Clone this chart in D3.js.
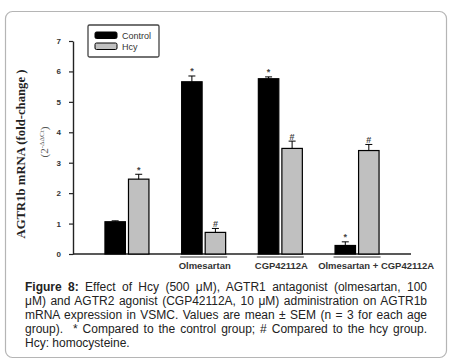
<!DOCTYPE html>
<html>
<head>
<meta charset="utf-8">
<script src="https://cdn.jsdelivr.net/npm/d3@7"></script>
<style>
  body { margin: 0; background: #fff; }
  #wrap { position: relative; width: 452px; height: 364px; }
  svg { position: absolute; left: 0; top: 0; }
  #caption {
    position: absolute; left: 25px; top: 280px; width: 402px;
    font-family: "Liberation Sans", Arial, sans-serif; font-size: 12px;
    line-height: 14px; color: #222;
  }
  #caption div { text-align: justify; text-align-last: justify; white-space: nowrap; }
  #caption div.last { text-align-last: left; }
</style>
</head>
<body>
<div id="wrap">
  <svg id="chart" width="452" height="364"></svg>
  <div id="caption"></div>
</div>
<script>
// datos
const grupos = ["Base", "Olmesartan", "CGP42112A", "Olmesartan + CGP42112A"];
const etiquetasGrupo = ["", "Olmesartan", "CGP42112A", "Olmesartan + CGP42112A"];
const series = ["Control", "Hcy"];
const valoresControl = [1.06, 5.66, 5.76, 0.28];
const valoresHcy = [2.46, 0.71, 3.47, 3.40];
const errorControl = [0.03, 0.19, 0.06, 0.12];
const errorHcy = [0.16, 0.13, 0.24, 0.20];
const marcaControl = ["", "*", "*", "*"];
const marcaHcy = ["*", "#", "#", "#"];
const ticksY = [0, 1, 2, 3, 4, 5, 6, 7];
const lineasTexto = [
  "<b>Figure 8:</b> Effect of Hcy (500 μM), AGTR1 antagonist (olmesartan, 100",
  "μM) and AGTR2 agonist (CGP42112A, 10 μM) administration on AGTR1b",
  "mRNA expression in VSMC. Values are mean ± SEM (n = 3 for each age",
  "group).&nbsp; * Compared to the control group; # Compared to the hcy group.",
  "Hcy: homocysteine."
];

const svg = d3.select("#chart");
const colores = {Control: "#000", Hcy: "#c0c0c0"};
const sans = "Liberation Sans, Arial, sans-serif";

// marco redondeado
svg.append("rect")
  .attr("x", 5.5).attr("y", 11.5).attr("width", 441).attr("height", 346)
  .attr("rx", 7).attr("fill", "none").attr("stroke", "#b5b5b5").attr("stroke-width", 1.2);

const datos = grupos.map((g, i) => ({
  grupo: g,
  etiqueta: etiquetasGrupo[i],
  barras: [
    {serie: "Control", valor: valoresControl[i], err: errorControl[i], marca: marcaControl[i]},
    {serie: "Hcy", valor: valoresHcy[i], err: errorHcy[i], marca: marcaHcy[i]}
  ]
}));

const y = d3.scaleLinear().domain([0, 7]).range([254, 41]);
const x0 = d3.scaleBand().domain(grupos).range([88.6, 395.4]);
const x1 = d3.scaleBand().domain(series).range([-22, 22]).paddingInner(0.13);

// eje Y
const ejeY = svg.append("g")
  .attr("transform", "translate(73,0)")
  .call(d3.axisLeft(y).tickValues(ticksY).tickFormat(d3.format("d"))
    .tickSize(4).tickPadding(8).tickSizeOuter(0));
ejeY.select(".domain").attr("stroke", "#222").attr("stroke-width", 1.4);
ejeY.selectAll(".tick line").attr("stroke", "#222").attr("stroke-width", 1.2);
ejeY.selectAll(".tick text")
  .attr("font-family", sans)
  .attr("font-size", 8).attr("font-weight", "bold").attr("fill", "#333");

// eje X (linea base)
svg.append("line")
  .attr("x1", 73).attr("x2", 411).attr("y1", y(0)).attr("y2", y(0))
  .attr("stroke", "#222").attr("stroke-width", 1.4);

// barras
const g = svg.selectAll(".grupo")
  .data(datos)
  .enter()
  .append("g")
  .attr("transform", d => `translate(${x0(d.grupo) + x0.bandwidth() / 2},0)`);

g.selectAll("rect")
  .data(d => d.barras)
  .enter()
  .append("rect")
  .attr("x", d => x1(d.serie))
  .attr("y", d => y(d.valor))
  .attr("width", x1.bandwidth())
  .attr("height", d => y(0) - y(d.valor))
  .attr("fill", d => colores[d.serie])
  .attr("stroke", "#000").attr("stroke-width", 1.2);

// barras de error
g.selectAll(".err")
  .data(d => d.barras)
  .enter()
  .append("path")
  .attr("d", d => {
    const cx = x1(d.serie) + x1.bandwidth() / 2;
    const yt = y(d.valor + d.err);
    return `M${cx},${y(d.valor)}V${yt}M${cx - 3.5},${yt}H${cx + 3.5}`;
  })
  .attr("stroke", "#000").attr("stroke-width", 1).attr("fill", "none");

// marcas de significancia
g.selectAll(".marca")
  .data(d => d.barras)
  .enter()
  .append("text")
  .attr("x", d => x1(d.serie) + x1.bandwidth() / 2)
  .attr("y", d => y(d.valor + d.err) - 1.5)
  .attr("text-anchor", "middle")
  .attr("font-family", sans)
  .attr("font-size", 9).attr("font-weight", "bold").attr("fill", "#444")
  .text(d => d.marca);

// subrayado y etiqueta de grupo (la ultima va corrida a la derecha)
const conEtiqueta = g.filter(d => d.etiqueta !== "");
conEtiqueta.append("line")
  .attr("x1", -23.5).attr("x2", 23.5).attr("y1", 257).attr("y2", 257)
  .attr("stroke", "#333").attr("stroke-width", 1.2);
conEtiqueta.append("text")
  .attr("transform", (d, i) => `translate(${i === 2 ? 19 : 1},268.5) scale(1.1,1)`)
  .attr("text-anchor", "middle")
  .attr("font-family", sans)
  .attr("font-size", 8.6).attr("font-weight", "bold").attr("fill", "#333")
  .text(d => d.etiqueta);

// titulo eje Y
svg.append("text")
  .attr("transform", "translate(24.5,154) rotate(-90)")
  .attr("text-anchor", "middle")
  .attr("font-family", "Liberation Serif, Times New Roman, serif")
  .attr("font-size", 12.7).attr("font-weight", "bold").attr("fill", "#222")
  .text("AGTR1b mRNA (fold-change )");
const sub = svg.append("text")
  .attr("transform", "translate(48,142) rotate(-90)")
  .attr("text-anchor", "middle")
  .attr("font-family", "Liberation Serif, Times New Roman, serif")
  .attr("font-size", 11).attr("fill", "#555");
sub.append("tspan").text("(2");
sub.append("tspan").attr("font-size", 7).attr("dy", -4).text("-ΔΔCt");
sub.append("tspan").attr("dy", 4).text(")");

// leyenda
const ley = svg.append("g");
ley.append("rect")
  .attr("x", 88).attr("y", 25).attr("width", 71).attr("height", 32)
  .attr("rx", 1.5).attr("fill", "#fff").attr("stroke", "#444").attr("stroke-width", 1.3);
series.forEach((s, i) => {
  ley.append("rect")
    .attr("x", 95).attr("y", 32 + i * 11).attr("width", 22).attr("height", 6.5)
    .attr("rx", 1.5).attr("fill", colores[s]).attr("stroke", "#000").attr("stroke-width", 1);
  ley.append("text")
    .attr("x", 122).attr("y", 39 + i * 11)
    .attr("font-family", sans)
    .attr("font-size", 9).attr("fill", "#333")
    .text(s);
});

// pie de figura
d3.select("#caption").selectAll("div")
  .data(lineasTexto)
  .enter()
  .append("div")
  .attr("class", (d, i) => i === lineasTexto.length - 1 ? "last" : null)
  .html(d => d);
</script>
</body>
</html>
